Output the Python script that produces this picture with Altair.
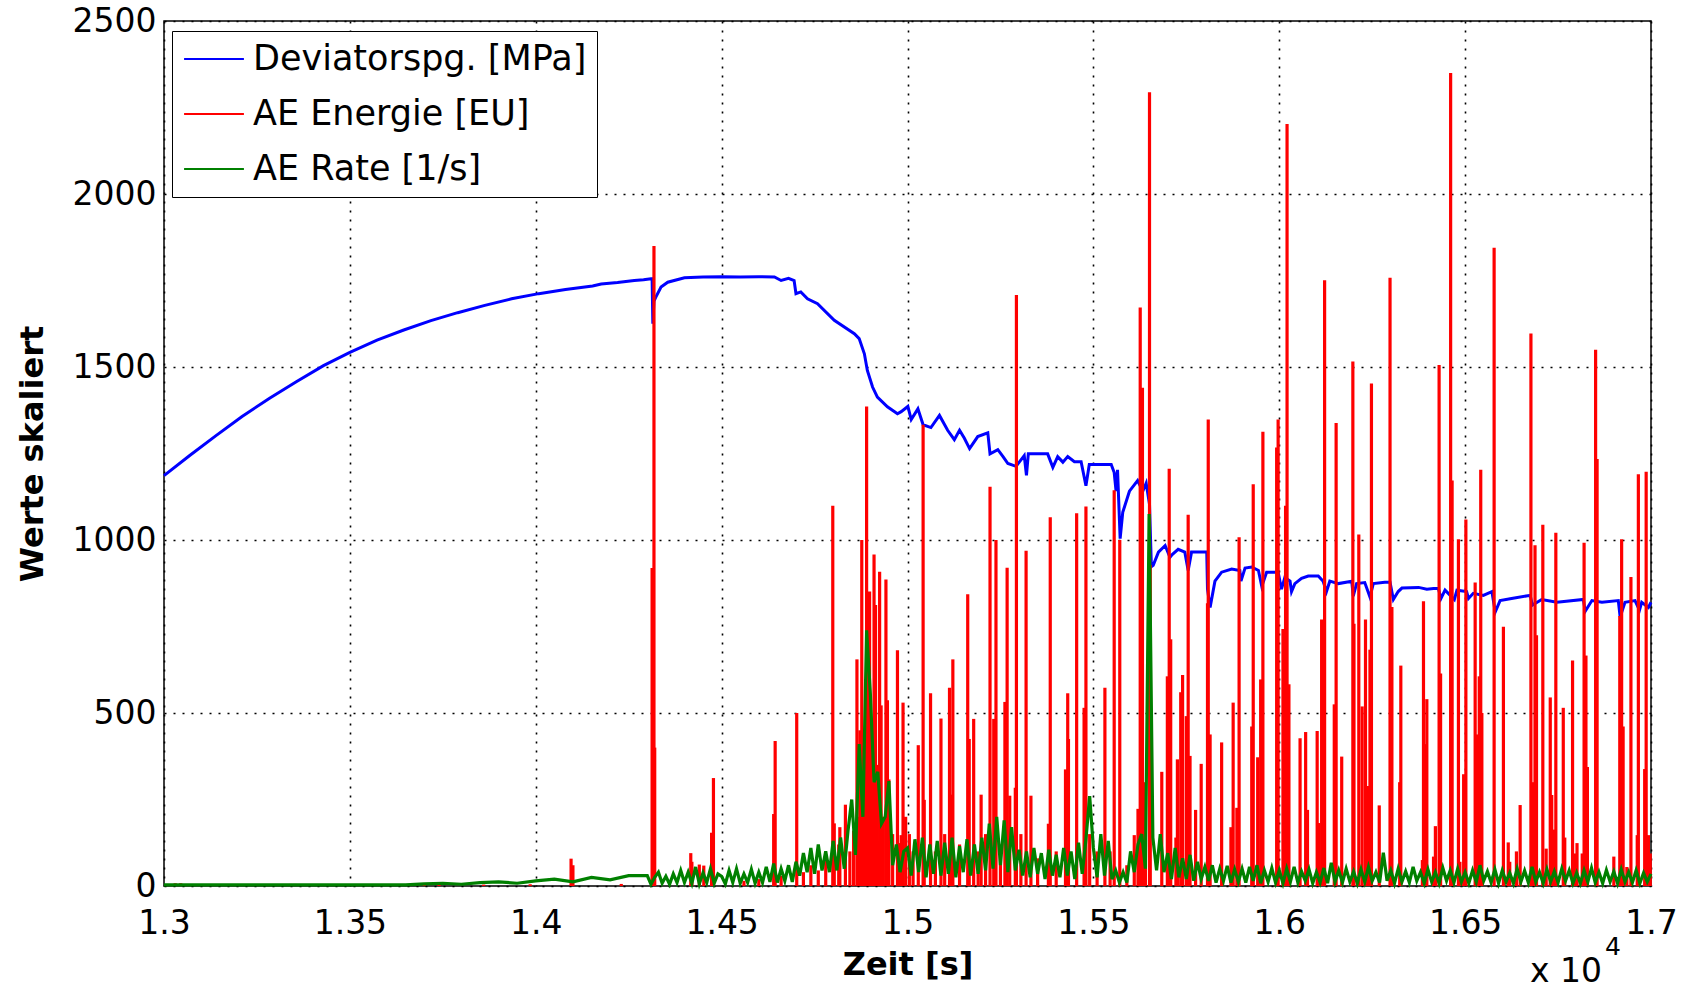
import altair as alt
import pandas as pd

# ---------------- data ----------------
series_names = ["Deviatorspg. [MPa]", "AE Energie [EU]", "AE Rate [1/s]"]
series_colors = ["#0000ff", "#ff0000", "#008000"]
x_ticks = [13000, 13500, 14000, 14500, 15000, 15500, 16000, 16500, 17000]
y_ticks = [0, 500, 1000, 1500, 2000, 2500]

# Deviatorspannung (blue)
blue_t = [13000, 13070, 13139, 13210, 13284, 13357, 13429, 13500, 13573, 13645,
          13718, 13790, 13863, 13935, 14008, 14080, 14153, 14176, 14220, 14265,
          14290, 14310, 14313, 14315, 14318, 14323, 14337, 14355, 14400, 14450,
          14500, 14550, 14600, 14642, 14660, 14680, 14695, 14700, 14713, 14731,
          14758, 14803, 14857, 14870, 14884, 14892, 14906, 14919, 14946, 14973,
          14983, 15001, 15010, 15028, 15042, 15063, 15086, 15108, 15126, 15140,
          15153, 15167, 15189, 15216, 15222, 15243, 15257, 15270, 15292, 15314,
          15320, 15325, 15377, 15391, 15404, 15418, 15431, 15449, 15467, 15480,
          15489, 15548, 15556, 15561, 15565, 15572, 15579, 15597, 15619, 15633,
          15642, 15651, 15656, 15661, 15675, 15693, 15706, 15712, 15728, 15746,
          15755, 15764, 15805, 15807, 15814, 15827, 15845, 15872, 15894, 15897,
          15908, 15926, 15944, 15953, 15966, 15997, 16006, 16015, 16029, 16033,
          16042, 16060, 16078, 16105, 16118, 16127, 16136, 16159, 16195, 16199,
          16208, 16230, 16244, 16253, 16284, 16298, 16307, 16320, 16330, 16375,
          16397, 16415, 16428, 16435, 16446, 16471, 16478, 16504, 16509, 16522,
          16549, 16572, 16581, 16594, 16625, 16675, 16681, 16706, 16747, 16818,
          16823, 16841, 16868, 16912, 16917, 16930, 16957, 16969, 16975, 16993,
          17000]
blue_v = [1186, 1245, 1301, 1357, 1410, 1458, 1504, 1542, 1578, 1607,
          1634, 1657, 1678, 1697, 1712, 1724, 1734, 1740, 1744, 1750,
          1752, 1755, 1755, 1625, 1690, 1702, 1731, 1745, 1758, 1760,
          1761, 1760, 1761, 1760, 1750, 1756, 1750, 1712, 1717, 1697,
          1683, 1635, 1596, 1582, 1538, 1490, 1442, 1413, 1385, 1365,
          1371, 1386, 1348, 1379, 1333, 1325, 1360, 1317, 1290, 1317,
          1294, 1264, 1299, 1310, 1249, 1261, 1241, 1221, 1213, 1244,
          1187, 1249, 1249, 1210, 1241, 1225, 1241, 1226, 1226, 1157,
          1218, 1218, 1195, 1141, 1203, 1004, 1080, 1141, 1172, 1141,
          1164, 1103, 923, 927, 965, 984, 950, 958, 973, 965,
          912, 965, 965, 858, 805, 881, 907, 916, 912, 881,
          919, 922, 912, 866, 907, 907, 858, 892, 881, 851,
          874, 889, 896, 896, 881, 851, 881, 874, 881, 838,
          874, 877, 835, 874, 878, 878, 828, 851, 861, 863,
          858, 860, 860, 831, 855, 828, 855, 851, 831, 846,
          840, 851, 792, 825, 831, 840, 812, 828, 820, 828,
          794, 825, 820, 825, 777, 820, 825, 797, 820, 805,
          820]

# AE Energie (red spikes)
red_t = [13030, 13045, 13340, 13352, 13560, 13700, 13740, 13860, 13985, 14095,
         14100, 14230, 14313, 14318, 14320, 14417, 14420, 14440, 14452, 14473,
         14478, 14560, 14600, 14640, 14644, 14660, 14702, 14720, 14740, 14760,
         14780, 14799, 14803, 14815, 14818, 14833, 14845, 14855, 14864, 14868,
         14872, 14875, 14877, 14880, 14882, 14884, 14886, 14888, 14890, 14892,
         14894, 14896, 14898, 14900, 14902, 14904, 14906, 14908, 14910, 14912,
         14914, 14916, 14918, 14920, 14925, 14929, 14935, 14942, 14946, 14950,
         14960, 14973, 14978, 14983, 14988, 14995, 15005, 15015, 15029, 15042,
         15045, 15062, 15075, 15090, 15100, 15113, 15118, 15122, 15140, 15162,
         15166, 15178, 15190, 15198, 15210, 15222, 15232, 15238, 15250, 15262,
         15268, 15275, 15290, 15293, 15305, 15319, 15332, 15350, 15379, 15384,
         15400, 15425, 15431, 15433, 15455, 15475, 15480, 15490, 15510, 15531,
         15545, 15556, 15571, 15590, 15610, 15620, 15626, 15632, 15640, 15651,
         15653, 15684, 15699, 15704, 15708, 15722, 15726, 15735, 15740, 15750,
         15755, 15760, 15775, 15790, 15807, 15809, 15814, 15845, 15870, 15876,
         15886, 15892, 15926, 15930, 15942, 15950, 15956, 15993, 15997, 16010,
         16017, 16021, 16026, 16056, 16071, 16076, 16102, 16106, 16114, 16122,
         16148, 16153, 16168, 16198, 16201, 16214, 16223, 16232, 16240, 16244,
         16248, 16269, 16298, 16303, 16324, 16327, 16385, 16388, 16392, 16397,
         16415, 16420, 16430, 16434, 16461, 16465, 16482, 16486, 16496, 16502,
         16527, 16532, 16538, 16542, 16545, 16578, 16603, 16616, 16620, 16638,
         16648, 16677, 16681, 16688, 16692, 16709, 16718, 16729, 16733, 16740,
         16744, 16764, 16768, 16789, 16795, 16801, 16815, 16820, 16825, 16829,
         16851, 16855, 16900, 16916, 16921, 16925, 16935, 16946, 16963, 16966,
         16983, 16987, 16993, 16998]
red_v = [8, 8, 6, 6, 3, 4, 5, 4, 5, 79,
         60, 6, 919, 1850, 400, 95, 70, 62, 59, 154,
         312, 15, 20, 208, 419, 30, 500, 40, 60, 45,
         80, 1099, 181, 120, 170, 235, 100, 160, 655, 200,
         450, 220, 1000, 260, 300, 280, 350, 300, 1386, 290,
         739, 270, 851, 250, 400, 230, 300, 200, 958, 180,
         812, 150, 350, 130, 908, 522, 200, 886, 537, 308,
         150, 681, 124, 147, 530, 200, 150, 100, 407, 1333,
         249, 557, 100, 484, 150, 573, 264, 655, 120, 843,
         425, 483, 100, 264, 150, 1154, 483, 1000, 120, 532,
         920, 261, 284, 1708, 150, 969, 261, 80, 180, 1066,
         100, 337, 557, 425, 1077, 515, 1097, 150, 100, 573,
         100, 1144, 1000, 60, 147, 223, 1672, 1440, 300, 2294,
         928, 330, 606, 1206, 713, 140, 366, 560, 610, 491,
         1073, 376, 220, 353, 817, 1348, 438, 415, 170, 530,
         226, 1008, 461, 1161, 372, 597, 1313, 1267, 1348, 743,
         1099, 2202, 583, 427, 445, 220, 448, 182, 770, 1751,
         525, 1338, 374, 1516, 758, 1016, 519, 770, 289, 683,
         1452, 233, 1758, 806, 300, 637, 75, 823, 410, 540,
         85, 173, 1506, 614, 2350, 1172, 1002, 70, 323, 1059,
         877, 438, 606, 1203, 500, 1845, 749, 126, 70, 100,
         234, 1597, 300, 985, 725, 1044, 108, 545, 263, 163,
         1021, 515, 140, 652, 94, 124, 94, 992, 666, 344,
         1550, 1234, 85, 780, 1002, 461, 55, 893, 147, 1190,
         338, 1197, 147, 94]

# AE Rate (green), sampled on a regular time grid
green_a_start, green_a_step = 13000, 50
green_a = [3, 3, 3, 3, 3, 3, 3, 3, 3, 3, 3, 3, 3, 3,
           6, 8, 5, 10, 12, 8, 15, 20, 12, 25, 18, 30, 22]
green_b_start, green_b_step = 14300, 10
green_b = [30, 5, 25, 40, 8, 28, 5, 35, 10, 45,
           10, 40, 8, 55, 6, 38, 10, 50, 8, 35,
           28, 6, 45, 10, 50, 8, 35, 10, 48, 8,
           40, 10, 55, 12, 65, 10, 50, 15, 60, 12,
           70, 30, 95, 40, 110, 35, 120, 45, 100, 40,
           130, 45, 140, 50, 160, 250, 90, 410, 200, 739,
           557, 300, 330, 180, 200, 303, 60, 120, 40, 100,
           110, 30, 135, 40, 140, 25, 120, 35, 130, 30,
           125, 35, 140, 25, 115, 40, 135, 30, 120, 35,
           140, 45, 180, 50, 200, 60, 190, 40, 170, 45,
           105, 30, 100, 25, 110, 35, 95, 20, 105, 30,
           90, 25, 110, 30, 100, 20, 125, 35, 135, 260,
           110, 25, 150, 30, 130, 20, 45, 10, 40, 10,
           100, 40, 120, 150, 50, 1075, 140, 45, 150, 40,
           95, 20, 110, 25, 80, 20, 90, 15, 70, 20,
           55, 15, 60, 10, 50, 15, 58, 10, 48, 12,
           50, 10, 55, 15, 60, 8, 45, 12, 52, 10,
           45, 8, 50, 12, 55, 10, 42, 15, 48, 8,
           40, 10, 52, 8, 67, 12, 45, 10, 50, 12,
           42, 8, 48, 12, 55, 15, 40, 10, 96, 15,
           45, 8, 50, 12, 42, 10, 55, 15, 40, 8,
           48, 12, 40, 8, 52, 15, 45, 10, 50, 12,
           40, 8, 45, 12, 60, 15, 42, 10, 48, 8,
           45, 12, 38, 8, 50, 12, 44, 10, 55, 12,
           40, 8, 48, 12, 42, 10, 50, 15, 45, 8,
           38, 8, 45, 12, 52, 10, 40, 8, 46, 12,
           42, 8, 48, 12, 40, 10, 45, 8, 38, 12,
           35]

# ---------------- tables ----------------
df_blue = pd.DataFrame({"t": blue_t, "v": blue_v, "series": series_names[0]})
df_red = pd.DataFrame({"t": red_t, "v": red_v, "z": 0, "series": series_names[1]}).sort_values("t")
green_t = ([green_a_start + i * green_a_step for i in range(len(green_a))]
           + [green_b_start + i * green_b_step for i in range(len(green_b))])
df_green = pd.DataFrame({"t": green_t, "v": green_a + green_b, "series": series_names[2]})
df_green = df_green.drop_duplicates("t", keep="last")

FONT = "DejaVu Sans"

x_scale = alt.Scale(domain=[13000, 17000], nice=False, zero=False)
y_scale = alt.Scale(domain=[0, 2500], nice=False)
color_scale = alt.Scale(domain=series_names, range=series_colors)

x_axis = alt.Axis(values=x_ticks, labelExpr="format(datum.value / 10000, '.2~f')",
                  title="Zeit [s]", titleX=743.5, titleY=88, titleBaseline="alphabetic",
                  titleAlign="center", labelPadding=21, labelFlush=False, labelOverlap=False)
y_axis = alt.Axis(values=y_ticks, format="d", title="Werte skaliert", titleX=-122, titleY=432.5,
                  titleBaseline="alphabetic", titleAlign="center", labelPadding=8,
                  labelOverlap=False)

legend = alt.Legend(title=None, orient="none", legendX=8, legendY=10,
                    symbolType="M-1.76,0H1.76", symbolSize=1156, symbolStrokeWidth=2,
                    symbolOffset=14, labelOffset=21, labelFont=FONT, labelFontSize=35,
                    labelColor="black", labelLimit=800, padding=10, rowPadding=19,
                    strokeColor="black", fillColor="white", cornerRadius=0)

color_enc = alt.Color("series:N", scale=color_scale, legend=legend)

blue = alt.Chart(df_blue).mark_line(strokeWidth=3).encode(
    x=alt.X("t:Q", scale=x_scale, axis=x_axis),
    y=alt.Y("v:Q", scale=y_scale, axis=y_axis),
    color=color_enc,
)
red = alt.Chart(df_red).mark_rule(strokeWidth=3.2).encode(
    x=alt.X("t:Q", scale=x_scale),
    y=alt.Y("v:Q", scale=y_scale),
    y2=alt.Y2("z:Q"),
    color=color_enc,
)
green = alt.Chart(df_green).mark_line(strokeWidth=3.2).encode(
    x=alt.X("t:Q", scale=x_scale),
    y=alt.Y("v:Q", scale=y_scale),
    color=color_enc,
)

exp_base = alt.Chart(pd.DataFrame({"s": ["x 10"]})).mark_text(
    align="right", baseline="alphabetic", font=FONT, fontSize=33, color="black"
).encode(text="s:N", x=alt.value(1438), y=alt.value(961))
exp_sup = alt.Chart(pd.DataFrame({"s": ["4"]})).mark_text(
    align="left", baseline="alphabetic", font=FONT, fontSize=25, color="black"
).encode(text="s:N", x=alt.value(1441), y=alt.value(934))

chart = alt.layer(blue, red, green, exp_base, exp_sup).properties(
    width=1487, height=865,
    autosize=alt.AutoSizeParams(type="none"),
    padding={"left": 164, "top": 21, "right": 38, "bottom": 106},
    background="white",
).configure_view(
    stroke="black", strokeWidth=1.5
).configure_axis(
    grid=True, gridColor="black", gridDash=[2, 7], gridWidth=1.6, gridOpacity=1,
    domain=False, ticks=False,
    labelFont=FONT, labelFontSize=33, labelColor="black",
    titleFont=FONT, titleFontSize=32, titleFontWeight="bold", titleColor="black",
)

chart.save("out.html", embed_options={"renderer": "svg", "actions": False})
